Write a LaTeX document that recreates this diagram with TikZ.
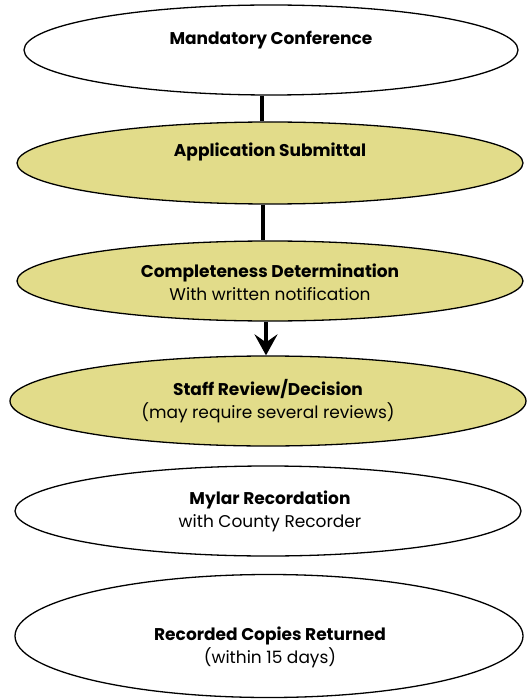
\documentclass[tikz,border=0pt]{standalone}
\usepackage{fontspec}
\setmainfont{Poppins}
\usetikzlibrary{shapes.geometric,arrows.meta}
\definecolor{khaki}{RGB}{226,220,138}
\begin{document}
\begin{tikzpicture}[x=1pt,y=-1pt]
  \tikzstyle{stage}=[ellipse, draw, line width=1.3pt, inner sep=0pt]
  \tikzstyle{done}=[stage, fill=khaki]
  \tikzstyle{txt}=[align=center, font=\fontsize{17}{23}\selectfont]
  \tikzstyle{link}=[line width=4pt]

  \useasboundingbox (0,0) rectangle (527,700);

  \node[stage, minimum width=494pt, minimum height=90pt]  (s1) at (271, 50) {};
  \node[done,  minimum width=506pt, minimum height=82pt]  (s2) at (270,163) {};
  \node[done,  minimum width=506pt, minimum height=80pt]  (s3) at (270,281) {};
  \node[done,  minimum width=516pt, minimum height=90pt]  (s4) at (268,401) {};
  \node[stage, minimum width=506pt, minimum height=90pt]  (s5) at (268,511) {};
  \node[stage, minimum width=508pt, minimum height=123pt] (s6) at (269,636) {};

  \node[txt] (t1) at (271, 40) {\textbf{Mandatory Conference}};
  \node[txt] (t2) at (270,152) {\textbf{Application Submittal}};
  \node[txt] (t3) at (270,282) {\textbf{Completeness Determination}\\With written notification};
  \node[txt] (t4) at (268,401) {\textbf{Staff Review/Decision}\\(may require several reviews)};
  \node[txt] (t5) at (270,511) {\textbf{Mylar Recordation}\\with County Recorder};
  \node[txt] (t6) at (270,647) {\textbf{Recorded Copies Returned}\\(within 15 days)};

  \draw[link] ([xshift=-9pt]s1.south) -- ([xshift=-8pt]s2.north);
  \draw[link] ([xshift=-7pt]s2.south) -- ([xshift=-7pt]s3.north);
  \draw[link, -{Stealth[length=21pt, width=23pt, inset=8pt]}]
    ([xshift=-4pt]s3.south) -- ([xshift=-2pt]s4.north);

\end{tikzpicture}
\end{document}
